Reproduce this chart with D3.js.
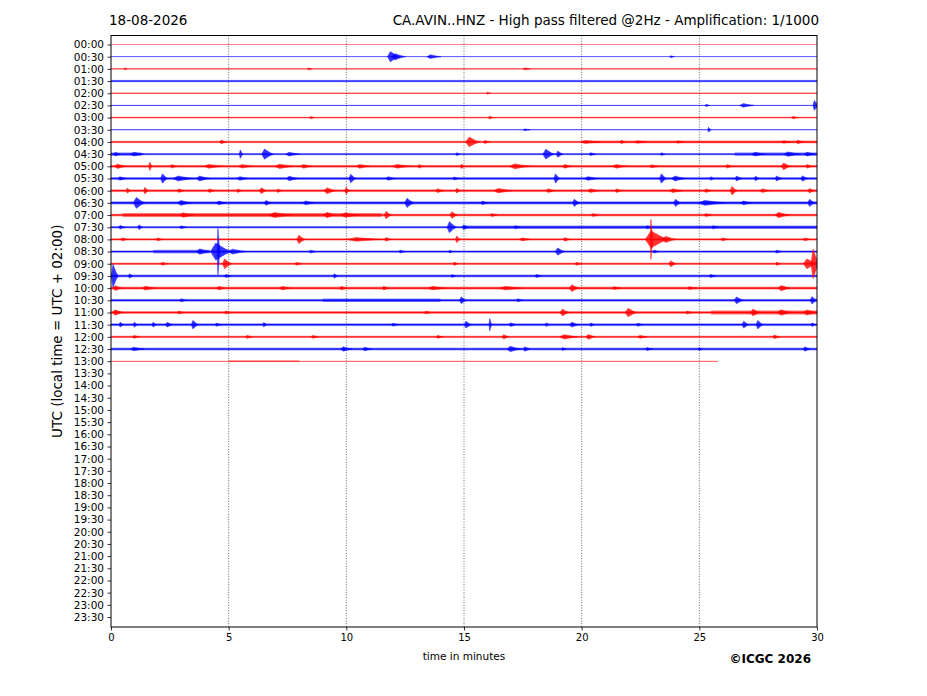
<!DOCTYPE html>
<html>
<head>
<meta charset="utf-8">
<script src="https://cdn.jsdelivr.net/npm/d3@7"></script>
<style>
  body { margin: 0; background: #fff; }
  text { font-family: "DejaVu Sans", sans-serif; fill: #000; }
</style>
</head>
<body>
<div id="chart"></div>
<script>
// tick labels of the helicorder rows (half-hour lines)
var rowLabels = ["00:00","00:30","01:00","01:30","02:00","02:30","03:00","03:30",
  "04:00","04:30","05:00","05:30","06:00","06:30","07:00","07:30",
  "08:00","08:30","09:00","09:30","10:00","10:30","11:00","11:30",
  "12:00","12:30","13:00","13:30","14:00","14:30","15:00","15:30",
  "16:00","16:30","17:00","17:30","18:00","18:30","19:00","19:30",
  "20:00","20:30","21:00","21:30","22:00","22:30","23:00","23:30"];
var xTicks = [0, 5, 10, 15, 20, 25, 30];

// background noise level of each recorded row (in row heights)
var rowNoise = [0.03, 0.04, 0.06, 0.10, 0.06, 0.05, 0.07, 0.05, 0.10, 0.09,
  0.12, 0.12, 0.12, 0.14, 0.12, 0.10, 0.10, 0.10, 0.10, 0.12,
  0.13, 0.12, 0.12, 0.12, 0.10, 0.12, 0.04];
// last minute recorded in the last row
var lastMinute = 25.8;

// noisier stretches: [row, from min, to min, level]
var noiseBands = [
  [8, 20, 30, 0.10], [9, 0, 1.3, 0.14], [9, 26.5, 30, 0.14],
  [14, 0.5, 11.5, 0.17], [15, 15, 30, 0.14], [17, 1.8, 4.2, 0.15],
  [21, 9, 14, 0.14], [22, 25.5, 30, 0.17], [26, 5, 8, 0.07]
];

// events: [row, minute, amplitude (row heights), duration (min)]
var bursts = [
  [1,11.9,0.42,0.5],[1,12.1,0.25,0.6],[1,13.6,0.15,0.6],[1,23.8,0.08,0.2],
  [2,0.6,0.1,0.1],[2,8.4,0.08,0.2],[2,17.6,0.08,0.3],
  [4,16,0.08,0.2],
  [5,25.3,0.1,0.2],[5,26.9,0.15,0.6],[5,29.9,0.4,0.25],
  [6,8.5,0.1,0.2],[6,16.1,0.12,0.2],[6,29,0.1,0.3],
  [7,25.4,0.2,0.15],[7,17.6,0.07,0.3],
  [8,4.7,0.15,0.3],[8,15.25,0.4,0.6],[8,15.9,0.12,0.3],[8,20.2,0.12,0.8],[8,21.7,0.15,0.2],
  [8,22.4,0.1,0.5],[8,24.1,0.1,0.3],[8,28.6,0.1,0.4],[8,29.2,0.15,0.3],
  [9,0.2,0.15,0.3],[9,1.0,0.15,0.6],[9,5.5,0.35,0.15],[9,6.55,0.42,0.5],[9,7.6,0.15,0.6],
  [9,14.7,0.12,0.2],[9,18.5,0.4,0.5],[9,19.0,0.25,0.3],[9,20.4,0.12,0.3],[9,23.4,0.12,0.2],
  [9,27.4,0.15,0.6],[9,28.8,0.18,0.7],[9,29.6,0.15,0.5],
  [10,0.3,0.18,0.5],[10,1.65,0.35,0.15],[10,2.6,0.14,0.3],[10,4.2,0.15,0.8],[10,5.6,0.14,0.6],
  [10,7.2,0.18,0.8],[10,8.2,0.15,0.5],[10,10.6,0.15,0.6],[10,12.2,0.15,0.8],[10,13.1,0.15,0.2],
  [10,14.9,0.18,0.2],[10,17.2,0.2,0.9],[10,19.3,0.15,0.4],[10,21.5,0.15,0.6],[10,23,0.12,0.4],
  [10,26.2,0.14,0.3],[10,28.6,0.28,0.4],[10,29.6,0.15,0.3],
  [11,0.4,0.14,0.4],[11,2.2,0.38,0.3],[11,2.9,0.2,0.9],[11,3.8,0.2,0.6],[11,5.5,0.15,0.5],
  [11,7.6,0.18,0.5],[11,10.2,0.35,0.3],[11,11.8,0.15,0.4],[11,14.6,0.12,0.3],[11,18.9,0.38,0.25],
  [11,20.3,0.15,0.6],[11,23.4,0.38,0.3],[11,24.0,0.2,0.6],[11,25.5,0.15,0.2],[11,26.6,0.2,0.3],
  [11,27.4,0.2,0.2],[11,28.3,0.2,0.3],[11,29.4,0.22,0.3],
  [12,0.7,0.2,0.2],[12,1.45,0.28,0.2],[12,2.9,0.15,0.3],[12,4.2,0.15,0.3],[12,5.4,0.15,0.2],
  [12,6.4,0.25,0.3],[12,7.1,0.15,0.2],[12,9.2,0.25,0.5],[12,10,0.28,0.2],[12,13.9,0.15,0.4],
  [12,14.7,0.2,0.2],[12,16.5,0.18,0.8],[12,18.6,0.15,0.4],[12,20.4,0.15,0.5],[12,21.5,0.15,0.3],
  [12,23.9,0.15,0.6],[12,25.3,0.15,0.3],[12,26.4,0.35,0.3],[12,27.7,0.15,0.4],[12,29.7,0.18,0.3],
  [13,1.1,0.45,0.5],[13,3.0,0.2,0.6],[13,4.6,0.15,0.4],[13,6.6,0.2,0.3],[13,8.3,0.15,0.5],
  [13,12.6,0.38,0.4],[13,15.8,0.15,0.3],[13,19.7,0.3,0.3],[13,24.0,0.3,0.3],[13,25.3,0.2,1.2],
  [13,26.9,0.15,0.5],[13,29.7,0.3,0.3],
  [14,3.1,0.18,0.6],[14,7.0,0.2,1.0],[14,9.2,0.22,0.5],[14,10,0.18,0.8],[14,11.7,0.3,0.3],
  [14,14.5,0.28,0.3],[14,16.2,0.12,0.3],[14,20.5,0.12,0.3],[14,25.3,0.12,0.3],[14,28.4,0.22,0.6],
  [15,0.4,0.15,0.3],[15,1.2,0.2,0.2],[15,3.0,0.12,0.3],[15,14.4,0.45,0.4],[15,15.0,0.2,0.3],
  [15,17.2,0.12,0.3],[15,22.8,0.12,0.3],[15,25.6,0.12,0.3],
  [16,0.5,0.12,0.3],[16,2.0,0.12,0.3],[16,8.0,0.35,0.35],[16,10.5,0.15,1.5],[16,11.7,0.15,0.3],
  [16,14.7,0.28,0.2],[16,17.5,0.12,0.5],[16,19.3,0.15,0.3],[16,22.95,1.65,0.12],[16,23.0,0.7,1.0],
  [16,23.6,0.25,0.6],[16,26,0.12,0.3],[16,29.5,0.12,0.3],
  [17,3.8,0.22,0.6],[17,4.55,1.9,0.12],[17,4.5,0.7,0.9],[17,5.2,0.2,0.8],[17,8.5,0.12,0.3],
  [17,12.3,0.12,0.3],[17,14.4,0.12,0.2],[17,19.0,0.3,0.4],[17,23.1,0.12,0.3],[17,28.3,0.12,0.3],
  [18,2.2,0.12,0.3],[18,4.85,0.4,0.4],[18,7.9,0.12,0.3],[18,14.6,0.15,0.2],[18,19.8,0.12,0.3],
  [18,23.8,0.25,0.3],[18,28.3,0.15,0.2],[18,29.85,1.2,0.35],[18,29.6,0.4,0.6],
  [19,0.1,0.95,0.3],[19,0.8,0.18,0.2],[19,4.9,0.12,0.3],[19,9.5,0.18,0.2],[19,14.5,0.12,0.2],
  [19,18.1,0.12,0.3],[19,25.5,0.12,0.3],
  [20,0.2,0.2,0.4],[20,1.5,0.15,0.6],[20,4.6,0.15,0.3],[20,7.3,0.14,0.5],[20,9.8,0.15,0.3],
  [20,11.6,0.15,0.3],[20,13.7,0.14,0.8],[20,16.8,0.14,1.0],[20,19.6,0.28,0.4],[20,21.4,0.12,0.4],
  [20,24.6,0.12,0.4],[20,28.5,0.22,0.5],
  [21,3,0.12,0.3],[21,14.9,0.28,0.3],[21,17.3,0.12,0.3],[21,26.6,0.28,0.4],[21,29.8,0.3,0.3],
  [22,0.2,0.22,0.5],[22,2.9,0.12,0.3],[22,4.9,0.12,0.3],[22,13.4,0.12,0.3],[22,19.2,0.28,0.4],
  [22,22.0,0.35,0.5],[22,24.5,0.12,0.3],[22,27.3,0.28,0.4],[22,28.5,0.22,0.6],[22,29.6,0.2,0.6],
  [23,0.4,0.2,0.2],[23,1.0,0.2,0.2],[23,1.8,0.2,0.2],[23,2.4,0.2,0.3],[23,3.5,0.35,0.3],
  [23,4.5,0.12,0.3],[23,6.5,0.18,0.2],[23,12.0,0.12,0.3],[23,15.1,0.28,0.3],[23,16.1,0.5,0.12],
  [23,17.0,0.15,0.3],[23,18.5,0.15,0.2],[23,19.6,0.2,0.4],[23,20.4,0.15,0.2],[23,22.4,0.12,0.3],
  [23,26.9,0.28,0.3],[23,27.5,0.35,0.3],[23,29.8,0.15,0.2],
  [24,1.0,0.12,0.3],[24,5.8,0.12,0.3],[24,8.6,0.12,0.3],[24,13.9,0.12,0.3],[24,16.7,0.18,0.3],
  [24,19.3,0.18,0.8],[24,20.3,0.2,0.4],[24,22.5,0.12,0.4],[24,28.2,0.15,0.3],
  [25,1.0,0.14,0.6],[25,9.9,0.18,0.5],[25,10.8,0.15,0.4],[25,17.0,0.22,0.6],[25,17.6,0.18,0.3],
  [25,19.2,0.12,0.2],[25,22.8,0.12,0.3],[25,25.0,0.12,0.2],[25,29.5,0.18,0.3]
];

var svgWidth = 927, svgHeight = 696;
var margin = { top: 35.5, left: 111, right: 110, bottom: 69 };
var width = svgWidth - margin.left - margin.right;   // 706
var height = svgHeight - margin.top - margin.bottom; // 591.5

var svg = d3.select("#chart").append("svg")
  .attr("width", svgWidth)
  .attr("height", svgHeight);

var chartGroup = svg.append("g")
  .attr("transform", `translate(${margin.left}, ${margin.top})`);

var xScale = d3.scaleLinear().domain([0, 30]).range([0, width]);
var yScale = d3.scaleLinear().domain([-0.74, 47.82]).range([0, height]);

var colorOf = function(row) { return row % 2 === 0 ? "#ff0000" : "#0000ff"; };
var rowEnd = function(row) { return row === rowNoise.length - 1 ? lastMinute : 30; };

// clip traces to the plot frame
svg.append("defs").append("clipPath").attr("id", "plotClip")
  .append("rect").attr("width", width).attr("height", height);

// dotted minute grid
chartGroup.selectAll(".grid")
  .data(xTicks.slice(1, -1))
  .enter()
  .append("line")
  .attr("x1", d => xScale(d)).attr("x2", d => xScale(d))
  .attr("y1", 0).attr("y2", height)
  .attr("stroke", "#000")
  .attr("stroke-width", 0.6)
  .attr("stroke-dasharray", "1,1.6");

var traces = chartGroup.append("g").attr("clip-path", "url(#plotClip)");

// noise halo and core of every row
var rows = rowNoise.map((n, i) => ({ row: i, noise: n }));
traces.selectAll(".halo")
  .data(rows)
  .enter()
  .append("rect")
  .attr("x", xScale(0))
  .attr("width", d => xScale(rowEnd(d.row)) - xScale(0))
  .attr("y", d => yScale(d.row - d.noise))
  .attr("height", d => yScale(d.row + d.noise) - yScale(d.row - d.noise))
  .attr("fill", d => colorOf(d.row))
  .attr("opacity", 0.35);

traces.selectAll(".core")
  .data(rows)
  .enter()
  .append("rect")
  .attr("x", xScale(0))
  .attr("width", d => xScale(rowEnd(d.row)) - xScale(0))
  .attr("y", d => yScale(d.row - d.noise * 0.5))
  .attr("height", d => yScale(d.row + d.noise * 0.5) - yScale(d.row - d.noise * 0.5))
  .attr("fill", d => colorOf(d.row))
  .attr("opacity", 0.9);

traces.selectAll(".band")
  .data(noiseBands)
  .enter()
  .append("rect")
  .attr("x", d => xScale(d[1]))
  .attr("width", d => xScale(d[2]) - xScale(d[1]))
  .attr("y", d => yScale(d[0] - d[3]))
  .attr("height", d => yScale(d[0] + d[3]) - yScale(d[0] - d[3]))
  .attr("fill", d => colorOf(d[0]))
  .attr("opacity", 0.45);

// each event as a spindle: quick onset, slower coda
var spindle = d3.area()
  .x(p => xScale(p.t))
  .y0(p => yScale(p.row - p.a))
  .y1(p => yScale(p.row + p.a));

traces.selectAll(".burst")
  .data(bursts)
  .enter()
  .append("path")
  .attr("d", function(d) {
    var row = d[0], t = d[1], a = d[2], dur = d[3];
    return spindle([
      { row: row, t: t - dur * 0.3, a: 0 },
      { row: row, t: t - dur * 0.05, a: a },
      { row: row, t: t + dur * 0.1, a: a * 0.75 },
      { row: row, t: t + dur * 0.4, a: a * 0.3 },
      { row: row, t: t + dur * 0.7, a: 0 }
    ]);
  })
  .attr("fill", d => colorOf(d[0]))
  .attr("stroke", d => colorOf(d[0]))
  .attr("stroke-width", 0.6)
  .attr("opacity", 0.8);

// axes
var xAxis = d3.axisBottom(xScale).tickValues(xTicks).tickSize(3.5).tickPadding(3.5);
var yAxis = d3.axisLeft(yScale)
  .tickValues(d3.range(rowLabels.length))
  .tickFormat(i => rowLabels[i])
  .tickSize(3.5).tickPadding(3.5);

var xg = chartGroup.append("g")
  .attr("transform", `translate(0, ${height})`)
  .call(xAxis);
xg.selectAll("text").style("font-size", "10px");

var yg = chartGroup.append("g").call(yAxis);
yg.selectAll("text").style("font-size", "10.5px");

[xg, yg].forEach(function(g) {
  g.select(".domain").remove();
  g.selectAll(".tick line").attr("stroke", "#000").attr("stroke-width", 0.8);
});

// frame
chartGroup.append("rect")
  .attr("width", width).attr("height", height)
  .attr("fill", "none")
  .attr("stroke", "#000")
  .attr("stroke-width", 1);

// titles and labels
svg.append("text")
  .attr("x", 109).attr("y", 25)
  .style("font-size", "13.5px")
  .text("18-08-2026");

svg.append("text")
  .attr("x", 819).attr("y", 25)
  .attr("text-anchor", "end")
  .style("font-size", "13.5px")
  .text("CA.AVIN..HNZ - High pass filtered @2Hz - Amplification: 1/1000");

svg.append("text")
  .attr("x", margin.left + width / 2).attr("y", 660)
  .attr("text-anchor", "middle")
  .style("font-size", "10.5px")
  .text("time in minutes");

svg.append("text")
  .attr("transform", `translate(62, ${margin.top + height / 2}) rotate(-90)`)
  .attr("text-anchor", "middle")
  .style("font-size", "13.5px")
  .text("UTC (local time = UTC + 02:00)");

svg.append("text")
  .attr("x", 811).attr("y", 663)
  .attr("text-anchor", "end")
  .style("font-size", "12px")
  .style("font-weight", "bold")
  .text("©ICGC 2026");
</script>
</body>
</html>
